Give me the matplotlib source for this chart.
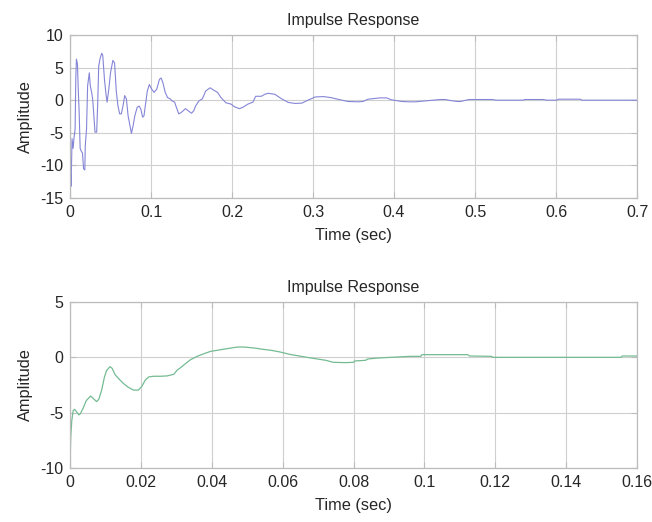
import matplotlib
matplotlib.use("Agg")
import matplotlib.pyplot as plt

plt.rcParams['font.family'] = ['Liberation Sans', 'DejaVu Sans']

# Top impulse response (time in s, amplitude)
t1 = [0.0, 0.0008, 0.0013, 0.0025, 0.0038, 0.0050, 0.0063, 0.0071, 0.0079, 0.0092,
      0.0100, 0.0113, 0.0125, 0.0142, 0.0154, 0.0167, 0.0183, 0.0188, 0.0204, 0.0217,
      0.0238, 0.0250, 0.0267, 0.0279, 0.0292, 0.0308, 0.0329, 0.0342, 0.0354, 0.0371,
      0.0392, 0.0404, 0.0425, 0.0446, 0.0458, 0.0479, 0.0500, 0.0529, 0.0550, 0.0571,
      0.0592, 0.0613, 0.0633, 0.0654, 0.0675, 0.0696, 0.0717, 0.0758, 0.0779, 0.0800,
      0.0829, 0.0854, 0.0875, 0.0896, 0.0913, 0.0933, 0.0954, 0.0979, 0.1008, 0.1038,
      0.1071, 0.1104, 0.1125, 0.1146, 0.1175, 0.1204, 0.1238, 0.1258, 0.1292, 0.1313,
      0.1342, 0.1371, 0.1425, 0.1458, 0.1500, 0.1529, 0.1550, 0.1592, 0.1633, 0.1675,
      0.1729, 0.1779, 0.1821, 0.1863, 0.1925, 0.1988, 0.2029, 0.2092, 0.2133, 0.2196,
      0.2258, 0.2292, 0.2363, 0.2404, 0.2446, 0.2529, 0.2613, 0.2696, 0.2779, 0.2863,
      0.2946, 0.3029, 0.3133, 0.3217, 0.3429, 0.3554, 0.3617, 0.3679, 0.3825, 0.3908,
      0.3971, 0.4096, 0.4179, 0.4263, 0.4571, 0.4633, 0.4696, 0.4779, 0.4821, 0.4925,
      0.5217, 0.5258, 0.5592, 0.5613, 0.5842, 0.5883, 0.6008, 0.6029, 0.6300, 0.6321,
      0.6446, 0.6467, 0.7000]
y1 = [-9.0, -12.0, -13.2, -5.9, -7.4, -5.7, -4.4, 3.2, 6.3, 5.5,
      2.2, -1.9, -7.4, -7.9, -8.1, -10.5, -10.7, -7.0, -4.4, 2.2,
      4.2, 2.2, 1.2, 0.2, -1.9, -4.9, -4.9, -0.4, 5.2, 6.4,
      7.2, 6.9, 3.2, 0.7, -0.3, 1.7, 4.2, 6.1, 5.7, 1.4,
      -0.9, -2.1, -2.1, -0.9, 0.7, 0.2, -2.4, -5.1, -3.9, -2.4,
      -1.1, -0.9, -1.4, -2.6, -2.4, -0.6, 1.4, 2.4, 1.7, 1.2,
      1.7, 3.2, 3.4, 2.7, 1.2, 0.4, 0.2, -0.1, -0.3, -1.1,
      -2.1, -1.9, -1.3, -1.6, -2.0, -1.6, -0.9, -0.1, 0.2, 1.4,
      1.9, 1.5, 1.2, 0.4, -0.4, -0.6, -1.0, -1.3, -1.1, -0.6,
      -0.3, 0.6, 0.6, 0.9, 1.06, 0.9, 0.2, -0.35, -0.5, -0.45,
      0.05, 0.5, 0.55, 0.4, -0.2, -0.25, -0.2, 0.15, 0.35, 0.35,
      0.05, -0.2, -0.25, -0.25, 0.1, 0.1, -0.05, -0.2, -0.2, 0.1,
      0.1, 0.0, 0.0, 0.1, 0.1, 0.0, 0.0, 0.15, 0.15, 0.0,
      0.0, 0.0, 0.0]

# Bottom impulse response
t2 = [0.0, 0.0002, 0.0005, 0.0009, 0.0013, 0.0018, 0.0025, 0.0029, 0.0037, 0.0046,
      0.0058, 0.0065, 0.0075, 0.0081, 0.0089, 0.0097, 0.0103, 0.0113, 0.0119, 0.0127,
      0.0137, 0.0151, 0.0165, 0.0179, 0.0193, 0.0203, 0.0212, 0.0222, 0.0236, 0.0255,
      0.0274, 0.0293, 0.0302, 0.0312, 0.0326, 0.0340, 0.0359, 0.0378, 0.0397, 0.0426,
      0.0454, 0.0473, 0.0492, 0.0520, 0.0539, 0.0568, 0.0593, 0.0620, 0.0663, 0.0692,
      0.0722, 0.0743, 0.0778, 0.0800, 0.0803, 0.0834, 0.0840, 0.0870, 0.0960, 0.0990,
      0.0993, 0.1122, 0.1128, 0.1190, 0.1192, 0.1556, 0.1558, 0.1600]
y2 = [-9.8, -7.2, -5.7, -4.8, -4.7, -4.9, -5.2, -5.1, -4.6, -3.9,
      -3.5, -3.7, -4.0, -3.8, -3.0, -1.8, -1.2, -0.84, -1.0, -1.56,
      -1.92, -2.37, -2.72, -2.96, -2.96, -2.61, -2.07, -1.77, -1.71, -1.71,
      -1.68, -1.53, -1.17, -0.93, -0.57, -0.21, 0.09, 0.33, 0.54, 0.69,
      0.84, 0.93, 0.93, 0.84, 0.75, 0.63, 0.48, 0.27, 0.03, -0.12,
      -0.27, -0.45, -0.48, -0.45, -0.33, -0.27, -0.15, -0.06, 0.09, 0.09,
      0.24, 0.24, 0.12, 0.09, 0.0, 0.0, 0.12, 0.12]

top_xticks = [0, 0.1, 0.2, 0.3, 0.4, 0.5, 0.6, 0.7]
top_yticks = [-15, -10, -5, 0, 5, 10]
bot_xticks = [0, 0.02, 0.04, 0.06, 0.08, 0.1, 0.12, 0.14, 0.16]
bot_yticks = [-10, -5, 0, 5]

title_text = "Impulse Response"
xlabel_text = "Time (sec)"
ylabel_text = "Amplitude"

fig = plt.figure(figsize=(6.52, 5.22), dpi=100)
ax1 = fig.add_axes([0.1074, 0.6207, 0.8696, 0.3123])
ax2 = fig.add_axes([0.1074, 0.1034, 0.8696, 0.3181])

spine_c = '#bcbcbc'
grid_c = '#cfcfcf'
txt_c = '#262626'

def style(ax, xt, yt, xlim, ylim):
    ax.set_xlim(*xlim)
    ax.set_ylim(*ylim)
    ax.set_xticks(xt)
    ax.set_yticks(yt)
    ax.set_xticklabels([('%g' % v) for v in xt])
    ax.set_yticklabels([('%g' % v) for v in yt])
    ax.grid(True, color=grid_c, linewidth=0.8)
    ax.set_axisbelow(True)
    for s in ax.spines.values():
        s.set_color(spine_c)
        s.set_linewidth(0.9)
    ax.tick_params(direction='in', length=4, color=spine_c, labelcolor=txt_c,
                   labelsize=11.5, top=True, right=True, pad=5)
    ax.set_title(title_text, fontsize=11.5, color=txt_c, pad=7)
    ax.set_xlabel(xlabel_text, fontsize=11.8, color=txt_c, labelpad=6)
    ax.set_ylabel(ylabel_text, fontsize=11.8, color=txt_c, labelpad=5)

style(ax1, top_xticks, top_yticks, (0, 0.7), (-15, 10))
style(ax2, bot_xticks, bot_yticks, (0, 0.16), (-10, 5))

ax1.plot(t1, y1, color='#8585d8', linewidth=0.8)
ax2.plot(t2, y2, color='#74bb92', linewidth=0.9)

fig.savefig("out.png", dpi=100)
